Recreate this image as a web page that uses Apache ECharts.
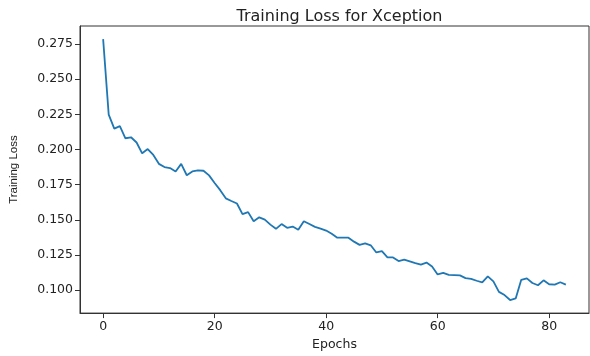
<!DOCTYPE html>
<html>
<head>
<meta charset="utf-8">
<script src="https://cdn.jsdelivr.net/npm/echarts@6/dist/echarts.min.js"></script>
<style>
html,body{margin:0;padding:0;background:#fff;}
#chart{width:590px;height:356px;}
</style>
</head>
<body>
<div id="chart"></div>
<script>
const epochs = Array.from({length: 84}, (_, i) => i);
const loss = [0.2785, 0.2248, 0.2148, 0.2166, 0.2080, 0.2087, 0.2050, 0.1973, 0.2003, 0.1961,
  0.1898, 0.1875, 0.1868, 0.1844, 0.1898, 0.1817, 0.1844, 0.1851, 0.1849, 0.1816,
  0.1762, 0.1711, 0.1653, 0.1634, 0.1616, 0.1541, 0.1555, 0.1490, 0.1518, 0.1501,
  0.1466, 0.1436, 0.1470, 0.1443, 0.1452, 0.1429, 0.1490, 0.1470, 0.1450, 0.1438,
  0.1424, 0.1401, 0.1373, 0.1373, 0.1373, 0.1345, 0.1322, 0.1333, 0.1319, 0.1268,
  0.1277, 0.1233, 0.1233, 0.1207, 0.1217, 0.1205, 0.1193, 0.1182, 0.1196, 0.1168,
  0.1112, 0.1123, 0.1109, 0.1107, 0.1105, 0.1086, 0.1081, 0.1067, 0.1056, 0.1098,
  0.1063, 0.0988, 0.0965, 0.0930, 0.0941, 0.1074, 0.1084, 0.1051, 0.1035, 0.1070,
  0.1042, 0.1039, 0.1056, 0.1039];
const xTicks = [0, 20, 40, 60, 80];
const yTicks = [0.100, 0.125, 0.150, 0.175, 0.200, 0.225, 0.250, 0.275];

const axisColor = '#333';
const textColor = '#222';
const font = 'DejaVu Sans';

const chart = echarts.init(document.getElementById('chart'), null, {renderer: 'canvas'});
chart.setOption({
  animation: false,
  backgroundColor: '#fff',
  title: {
    text: 'Training Loss for Xception',
    left: 334.5,
    textAlign: 'center',
    top: 4,
    textStyle: {fontFamily: font, fontSize: 16, fontWeight: 'normal', color: textColor}
  },
  grid: {
    left: 80, right: 1, top: 26, bottom: 39,
    show: true, borderColor: axisColor, borderWidth: 1, backgroundColor: 'transparent'
  },
  xAxis: {
    type: 'value',
    min: -4.15, max: 87.15,
    name: 'Epochs',
    nameLocation: 'middle',
    nameGap: 21,
    nameTextStyle: {fontFamily: font, fontSize: 12.5, color: textColor},
    axisLine: {show: true, onZero: false, lineStyle: {color: axisColor, width: 1}},
    axisTick: {show: true, length: 5, lineStyle: {color: axisColor}, customValues: xTicks},
    axisLabel: {fontFamily: font, fontSize: 12.5, color: textColor, margin: 7, customValues: xTicks,
      formatter: v => String(Math.round(v))},
    splitLine: {show: false}
  },
  yAxis: {
    type: 'value',
    min: 0.0837, max: 0.2878,
    name: 'Training Loss',
    nameLocation: 'middle',
    nameGap: 60,
    nameTextStyle: {fontFamily: 'Liberation Sans', fontSize: 11.5, color: textColor},
    axisLine: {show: true, onZero: false, lineStyle: {color: axisColor, width: 1}},
    axisTick: {show: true, length: 5, lineStyle: {color: axisColor}, customValues: yTicks},
    axisLabel: {fontFamily: font, fontSize: 12.5, color: textColor, margin: 7, customValues: yTicks,
      formatter: v => v.toFixed(3)},
    splitLine: {show: false}
  },
  series: [{
    type: 'line',
    data: epochs.map((e, i) => [e, loss[i]]),
    showSymbol: false,
    symbol: 'none',
    lineStyle: {color: '#1f77b4', width: 1.8},
    itemStyle: {color: '#1f77b4'}
  }]
});
</script>
</body>
</html>
